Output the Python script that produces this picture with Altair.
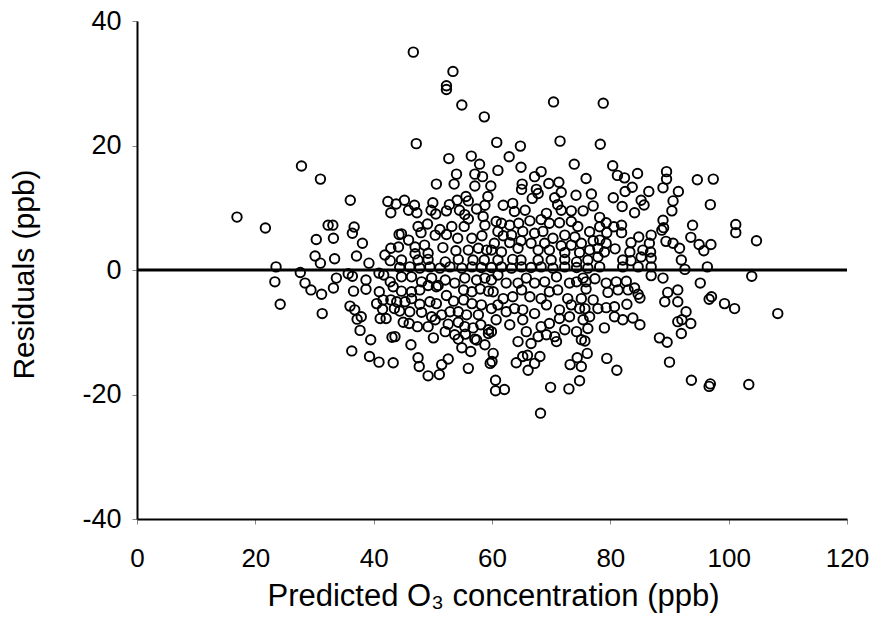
import altair as alt
import pandas as pd

# Predicted O3 (ppb) and residuals (ppb), grouped by region
left_x = [16.9, 21.7, 23.5, 23.3, 24.2, 27.6, 28.4, 27.8,
          31.0, 36.05, 42.4, 43.8, 42.9, 32.3, 33.1, 36.7, 36.4, 30.3, 33.2, 38.1, 44.3, 42.9,
          30.1, 31.0, 33.4, 37.1, 39.2, 41.9, 42.8, 35.7, 36.4, 33.7, 29.4, 31.2, 33.2, 38.7, 38.7, 36.6,
          40.9, 41.7, 42.8, 40.95, 43.3, 40.5, 41.6, 42.9, 41.5, 43.5, 36.0, 36.8, 31.3, 37.2, 37.9, 41.1,
          42.1, 37.7, 39.5, 43.1, 36.3, 39.3, 40.9, 43.3]
left_y = [8.5, 6.75, 0.5, -1.9, -5.5, -0.4, -2.1, 16.7,
          14.6, 11.2, 11.0, 10.6, 9.2, 7.2, 7.2, 6.9, 5.9, 4.9, 5.1, 4.3, 5.7, 3.5,
          2.25, 1.1, 1.8, 2.25, 1.1, 2.4, 1.5, -0.6, -1.0, -1.3, -3.2, -3.9, -2.9, -1.6, -3.1, -3.4,
          -0.5, -0.8, -1.9, -3.5, -2.7, -5.4, -4.8, -4.8, -6.3, -6.2, -5.8, -6.4, -7.0, -7.9, -7.5, -7.8,
          -7.8, -9.7, -11.2, -10.8, -13.0, -13.9, -14.8, -14.9]

midl_x = [46.7, 53.4, 52.3, 52.3, 54.9, 58.7, 47.2, 52.7, 56.5, 57.9, 54.0, 57.1, 58.4, 50.6, 53.6, 57.1,
          45.2, 46.9, 50.0, 52.8, 54.1, 55.6, 56.0, 58.8, 59.3,
          45.9, 47.3, 49.7, 50.5, 52.3, 54.5, 55.4, 57.4, 58.5,
          47.5, 49.1, 51.2, 53.2, 55.3, 56.0, 58.8,
          44.7, 45.9, 48.0, 50.4, 52.3, 54.2, 56.6, 58.3,
          44.2, 47.0, 48.6, 51.7, 53.9, 56.0, 57.7, 59.1, 47.0, 49.2,
          44.7, 47.5, 49.2, 52.1, 54.3, 56.8, 58.7,
          44.4, 46.1, 47.8, 49.5, 51.2, 52.9, 54.9, 56.6, 58.2,
          44.7, 46.4, 48.1, 49.8, 50.9, 52.1, 53.7, 55.4, 57.4, 58.8,
          44.7, 46.4, 47.8, 49.2, 50.6, 52.3, 55.2, 56.6, 58.0, 59.4,
          43.9, 45.3, 46.4, 47.8, 49.5, 50.6, 53.5, 55.2, 56.6, 58.2,
          44.4, 46.1, 48.1, 49.8, 51.5, 52.9, 54.3, 55.7, 57.7,
          45.0, 46.0, 47.4, 49.2, 50.4, 52.6, 54.3, 55.4, 56.8, 58.1, 59.4,
          43.6, 50.1, 52.1, 53.7, 54.3, 55.5, 57.1, 58.8, 59.4, 46.3,
          54.9, 56.4, 57.4,
          47.5, 47.7, 51.5, 52.6, 56.0, 59.7, 49.2, 51.1]
midl_y = [35.0, 31.9, 29.6, 29.0, 26.5, 24.6, 20.3, 17.9, 18.3, 17.0, 15.4, 15.4, 15.0, 13.8, 13.8, 13.5,
          11.2, 10.4, 10.8, 10.5, 11.2, 11.8, 11.1, 10.4, 11.8,
          9.6, 9.2, 9.6, 9.0, 9.5, 9.6, 8.9, 9.8, 8.6,
          7.0, 7.4, 6.5, 7.0, 7.0, 8.2, 7.2,
          5.8, 4.8, 6.0, 5.6, 5.7, 5.1, 5.1, 5.5,
          3.7, 3.7, 4.0, 3.6, 3.1, 3.2, 3.5, 3.2, 2.6, 2.7,
          1.6, 1.6, 1.7, 1.3, 1.7, 1.6, 1.6,
          0.4, 0.5, 0.3, 0.5, 0.3, 0.5, 0.3, 0.5, 0.4,
          -1.1, -1.1, -1.9, -1.3, -2.5, -1.6, -2.1, -1.3, -1.6, -1.3,
          -3.4, -3.5, -3.2, -2.5, -2.7, -4.1, -3.2, -3.5, -3.05, -3.4,
          -5.1, -5.1, -4.6, -5.5, -5.1, -5.4, -5.0, -4.8, -5.4, -5.6,
          -6.6, -6.7, -6.8, -7.5, -7.2, -6.7, -6.7, -7.2, -7.2,
          -8.4, -8.6, -9.1, -9.1, -8.0, -8.7, -8.4, -9.1, -9.3, -8.8, -9.6,
          -10.7, -10.9, -9.9, -10.4, -11.1, -10.3, -11.1, -12.0, -10.2, -12.0,
          -12.5, -13.1, -11.25,
          -14.1, -15.5, -15.2, -14.3, -15.8, -15.0, -17.0, -16.8]

midr_x = [70.4, 60.8, 64.8, 71.5, 62.9, 73.9, 61.0, 64.9, 68.3, 67.2, 59.8, 65.1, 65.0, 69.6, 71.3,
          67.5, 67.8, 66.8, 71.7, 70.6, 74.2, 75.9,
          61.9, 63.5, 63.8, 65.6, 71.1, 71.7, 73.4, 75.4,
          60.7, 61.6, 63.0, 64.5, 66.4, 68.3, 69.2, 69.7, 71.4, 73.4, 74.5,
          61.0, 61.9, 63.3, 65.2, 67.2, 68.6, 70.3, 72.3, 74.0, 75.1,
          60.4, 63.0, 64.9, 66.6, 68.9, 71.7, 73.4,
          59.9, 61.6, 64.4, 67.8, 69.7, 72.3, 74.8,
          61.0, 63.5, 64.9, 67.8, 70.0, 72.3, 74.3,
          59.9, 61.6, 63.3, 65.0, 66.6, 68.3, 70.3, 72.3, 74.3,
          59.9, 61.0, 62.4, 64.4, 65.8, 67.2, 68.9, 70.9, 73.1, 74.3, 75.4,
          60.2, 61.9, 63.5, 65.0, 66.4, 68.3, 69.7, 71.1, 72.8, 75.1,
          59.9, 61.0, 62.4, 63.8, 65.2, 67.2, 69.2, 71.4, 73.4, 74.8,
          60.7, 63.0, 65.2, 68.3, 69.7, 71.4, 73.1, 75.4,
          59.9, 64.4, 65.8, 66.6, 67.8, 69.2, 70.6, 70.9, 72.3, 74.3, 75.1,
          60.2, 60.0, 64.1, 65.2, 66.0, 68.1, 67.2, 66.1, 73.2, 74.4, 75.1,
          60.6, 60.6, 62.1, 69.9, 73.0, 74.8, 68.2]
midr_y = [27.0, 20.5, 19.9, 20.7, 18.2, 17.0, 16.0, 16.5, 15.8, 15.0, 13.5, 13.8, 12.95, 13.9, 14.1,
          12.95, 12.3, 11.5, 12.5, 11.6, 12.0, 14.7,
          10.4, 10.7, 9.4, 9.6, 10.5, 9.6, 9.5, 9.5,
          7.8, 7.5, 7.2, 7.5, 7.9, 8.1, 9.1, 7.5, 7.6, 7.8, 7.0,
          6.2, 5.5, 5.6, 6.2, 5.9, 6.2, 5.1, 5.6, 5.3, 4.3,
          4.3, 4.4, 4.7, 4.3, 4.3, 3.9, 4.0,
          3.2, 2.9, 3.5, 3.2, 3.2, 2.8, 2.8,
          1.6, 1.7, 1.6, 1.6, 1.6, 1.7, 1.3,
          0.4, 0.5, 0.3, 0.5, 0.4, 0.5, 0.3, 0.5, 0.4,
          -1.6, -0.8, -2.1, -2.1, -1.3, -2.1, -1.9, -1.1, -2.1, -1.9, -1.3,
          -3.5, -4.6, -4.3, -3.2, -4.3, -4.6, -3.5, -3.2, -4.6, -4.6,
          -6.2, -5.6, -6.7, -6.2, -6.4, -7.0, -5.6, -6.4, -5.6, -6.2,
          -8.0, -8.8, -8.0, -9.1, -8.6, -7.8, -7.5, -8.0,
          -9.9, -11.5, -9.9, -11.8, -10.7, -10.4, -10.7, -11.5, -9.6, -9.9, -11.2,
          -13.4, -14.7, -14.9, -13.9, -13.7, -13.9, -15.0, -16.1, -15.2, -14.1, -15.5,
          -17.7, -19.4, -19.2, -18.85, -19.1, -17.8, -23.0]

right_x = [78.8, 78.3, 80.4, 81.2, 82.4, 84.6, 89.5, 89.5, 88.9, 83.7, 82.5, 86.5, 91.5, 76.8, 80.5,
           85.2, 85.7, 90.6, 77.1, 82.0, 84.1, 90.4, 78.2, 79.3, 88.9,
           76.5, 78.2, 79.4, 80.6, 81.9, 81.9, 88.7, 89.0,
           77.1, 78.2, 79.3, 83.5, 84.8, 86.9, 86.6, 89.4, 90.6, 91.7,
           76.5, 77.9, 79.0, 80.8, 83.3, 85.5, 86.8,
           76.2, 77.9, 82.1, 83.5, 85.2, 86.9, 92.0,
           76.2, 78.2, 82.1, 84.7, 86.9, 86.9, 88.9, 77.4, 75.9, 79.3, 81.0, 82.7,
           75.9, 79.6, 81.3, 83.0, 84.1, 84.7, 85.0, 89.7, 91.4, 89.2, 91.4, 77.1,
           75.7, 77.9, 79.3, 80.7, 82.8,
           76.5, 80.7, 82.1, 83.8, 85.0, 91.4,
           76.2, 79.0, 92.0, 88.3, 89.6, 75.7,
           76.1, 79.4, 90.0, 81.1,
           94.7, 97.4, 96.9, 93.9, 101.2, 101.2, 93.6, 95.0, 97.0, 95.8, 104.7, 96.4, 92.6,
           103.9, 95.2, 97.1, 96.7, 99.3, 101.0, 108.3, 92.8, 92.1, 93.6, 93.7, 96.9, 96.7, 103.4]
right_y = [26.8, 20.2, 16.75, 15.2, 14.8, 15.5, 15.8, 14.6, 13.2, 13.3, 12.6, 12.6, 12.6, 12.2, 11.6,
           11.2, 10.45, 11.1, 10.3, 10.2, 9.2, 9.5, 8.45, 7.6, 8.0,
           6.15, 6.95, 6.0, 6.95, 7.2, 6.0, 6.4, 6.8,
           4.7, 4.8, 4.3, 4.4, 5.3, 5.6, 4.3, 4.6, 4.3, 3.5,
           3.2, 3.5, 2.9, 3.4, 2.9, 3.2, 2.9,
           1.6, 2.1, 1.6, 1.5, 2.1, 1.9, 1.6,
           0.3, 0.5, 0.5, 0.5, 0.5, -0.9, -1.3, -1.4, -1.9, -2.1, -1.9, -1.8,
           -3.05, -3.6, -3.2, -3.2, -2.9, -3.9, -4.5, -3.6, -3.2, -5.1, -5.1, -4.8,
           -6.2, -6.2, -6.05, -5.9, -5.5,
           -7.5, -7.5, -8.0, -7.7, -8.8, -8.3,
           -9.4, -9.3, -10.2, -10.9, -11.6, -11.4,
           -13.4, -14.2, -14.8, -16.1,
           14.5, 14.6, 10.5, 7.2, 7.3, 6.0, 5.25, 4.1, 4.1, 3.1, 4.7, 0.5, 0.1,
           -1.0, -2.1, -4.3, -4.7, -5.4, -6.2, -7.0, -6.7, -8.0, -8.6, -17.7, -18.3, -18.7, -18.4]

x_ticks = [0, 20, 40, 60, 80, 100, 120]
y_ticks = [-40, -20, 0, 20, 40]
zero_level = [0]

pts = pd.DataFrame({
    "pred": left_x + midl_x + midr_x + right_x,
    "resid": left_y + midl_y + midr_y + right_y,
})

FONT = "Liberation Sans"

x_enc = alt.X(
    "pred:Q",
    scale=alt.Scale(domain=[0, 120], nice=False, zero=False),
    axis=alt.Axis(
        values=x_ticks, grid=False, title="Predicted O\u2083 concentration (ppb)",
        labelFontSize=26, titleFontSize=31, labelFont=FONT, titleFont=FONT,
        labelColor="black", titleColor="black", titleFontWeight="normal",
        domainColor="black", domainWidth=2, tickColor="#888888", tickSize=5,
        labelPadding=21, labelFlush=False, titleX=356, titleY=86,
        titleBaseline="alphabetic", titleAlign="center",
        labelExpr="'' + datum.value",
    ),
)
y_enc = alt.Y(
    "resid:Q",
    scale=alt.Scale(domain=[-40, 40], nice=False, zero=False),
    axis=alt.Axis(
        values=y_ticks, grid=False, title="Residuals (ppb)",
        labelFontSize=27, titleFontSize=30, labelFont=FONT, titleFont=FONT,
        labelColor="black", titleColor="black", titleFontWeight="normal",
        domainColor="black", domainWidth=2, tickColor="#888888", tickSize=5,
        labelPadding=11, labelFlush=False, titleX=-104, titleY=253, titleAngle=-90,
        titleBaseline="alphabetic", titleAlign="center",
        labelExpr="'' + datum.value",
    ),
)

points = alt.Chart(pts).mark_point(
    shape="circle", filled=False, color="black", strokeWidth=1.9, size=90, opacity=1
).encode(x=x_enc, y=y_enc)

zero_line = alt.Chart(pd.DataFrame({"resid": zero_level})).mark_rule(
    color="black", strokeWidth=3
).encode(y=alt.Y("resid:Q"))

chart = alt.layer(points, zero_line).properties(
    width=710, height=498,
    autosize=alt.AutoSizeParams(type="none"),
    padding={"left": 137, "top": 21, "right": 24, "bottom": 110},
    background="white",
).configure_view(stroke=None)

chart.save("out.html", embed_options={"renderer": "svg", "actions": False})
